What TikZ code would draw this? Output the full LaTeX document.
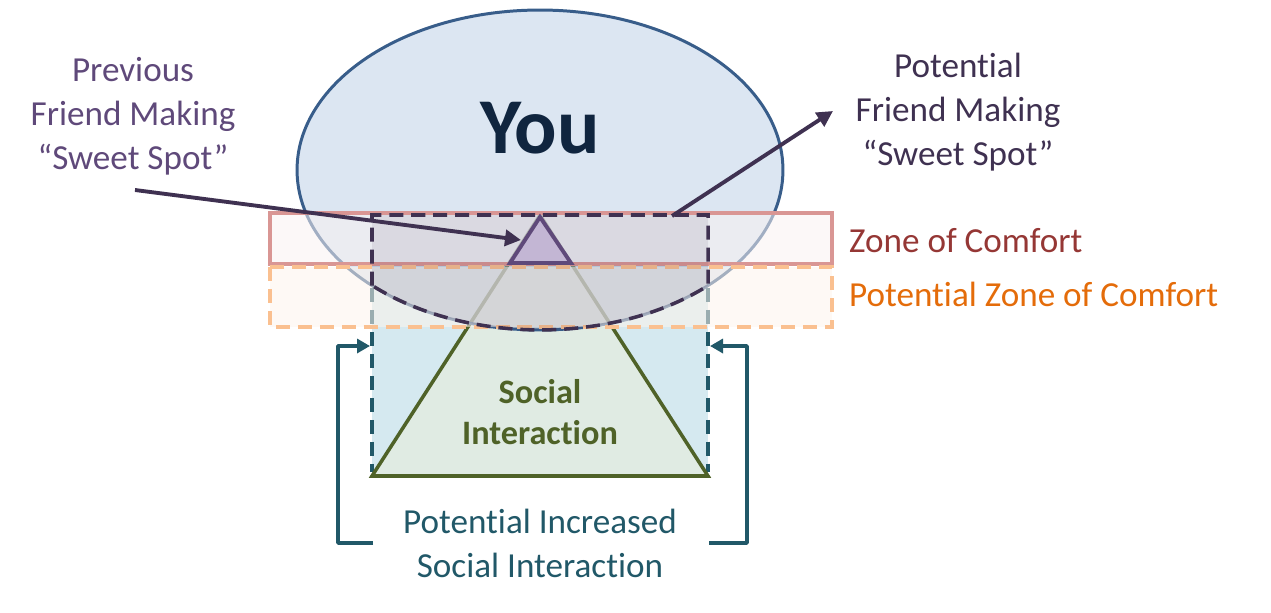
\documentclass[tikz,border=0pt]{standalone}
\usepackage{fontspec}
\setmainfont{Carlito}[Ligatures=TeX, RawFeature={-liga;-clig;-calt;-dlig}]
\usetikzlibrary{arrows.meta,positioning,calc}
\definecolor{youblue}{HTML}{385D8A}
\definecolor{youfill}{HTML}{B1C7E2}
\definecolor{younavy}{HTML}{10253F}
\definecolor{zonered}{HTML}{953735}
\definecolor{zonepink}{HTML}{D99694}
\definecolor{zonefill}{HTML}{F9F2F2}
\definecolor{potorange}{HTML}{E46C0A}
\definecolor{potpeach}{HTML}{FAC090}
\definecolor{potfill}{HTML}{FEF4EC}
\definecolor{spotpurple}{HTML}{5F497A}
\definecolor{spotdark}{HTML}{3F3151}
\definecolor{spotfill}{HTML}{C3B6D4}
\definecolor{socteal}{HTML}{215868}
\definecolor{socblue}{HTML}{D5E9F0}
\definecolor{socgreen}{HTML}{4F6228}
\definecolor{socfill}{HTML}{E0EBE3}
\begin{document}
\begin{tikzpicture}[x=0.02cm, y=0.02cm,
  lbl/.style={align=center, font=\fontsize{20}{25}\selectfont},
  arr/.style={-{Triangle[length=3.2mm,width=3.2mm]}, line width=2.2pt, spotdark},
  bracket/.style={-{Triangle[length=2.6mm,width=2.8mm]}, line width=2pt, socteal, line join=round},
  dashline/.style={dash pattern=on 8pt off 4.5pt}]
\useasboundingbox (0,0) rectangle (1271,-612);
% social interaction
\fill[socblue] (372,-264) rectangle (708,-476);
\draw[socteal, dashline, line width=2pt] (372,-288) -- (372,-472) (708,-288) -- (708,-472);
\draw[socgreen, fill=socfill, line width=2pt] (540,-215) -- (372,-476) -- (708,-476) -- cycle;
\node[font=\fontsize{19.5}{23}\selectfont\bfseries, text=socgreen, align=center] (social) at (540,-412) {Social\\Interaction};
% you
\draw[youblue, line width=1.7pt, fill=youfill, fill opacity=0.45] (540,-170) ellipse [x radius=4.86cm, y radius=3.2cm];
\node[font=\fontsize{45}{50}\selectfont\bfseries, text=younavy] (you) at (540,-128) {You};
% zones
\draw[zonepink, fill=zonefill, fill opacity=0.55, line width=2pt] (270,-213) rectangle (832,-264);
\draw[potpeach, dashline, fill=potfill, fill opacity=0.55, line width=2pt] (270,-267) rectangle (832,-327);
\draw[spotdark, dashline, line width=2pt, fill=spotdark, fill opacity=0.1]
  (372,-285.6) -- (372,-215) -- (708,-215) -- (708,-285.6)
  arc[start angle=-46.3, end angle=-133.7, x radius=4.86cm, y radius=3.2cm];
\draw[spotpurple, line width=2.2pt, fill=spotfill] (540,-217) -- (510,-263) -- (571,-263) -- cycle;
% labels
\node[lbl, text=spotpurple] (prev) at (133,-116) {Previous\\Friend Making\\“Sweet Spot”};
\node[lbl, text=spotdark] (pot) at (958,-112) {Potential\\Friend Making\\“Sweet Spot”};
\node[lbl, text=zonered, anchor=west] (zone) at (843,-241) {Zone of Comfort};
\node[lbl, text=potorange, anchor=west] (potzone) at (843,-294) {Potential Zone of Comfort};
\node[lbl, text=socteal] (incr) at (540,-543) {Potential Increased\\Social Interaction};
% arrows
\coordinate (prevstart) at (135,-190);
\coordinate (prevend) at (521,-240);
\coordinate (potstart) at (672,-216);
\coordinate (potend) at (833,-111);
\draw[arr] (prevstart) -- (prevend);
\draw[arr] (potstart) -- (potend);
\coordinate (lbot) at (373,-543);
\coordinate (ltip) at (370,-346);
\coordinate (rbot) at (709,-543);
\coordinate (rtip) at (710,-346);
\draw[bracket] (lbot) -- ++(-35,0) |- (ltip);
\draw[bracket] (rbot) -- ++(38,0) |- (rtip);
\end{tikzpicture}
\end{document}
